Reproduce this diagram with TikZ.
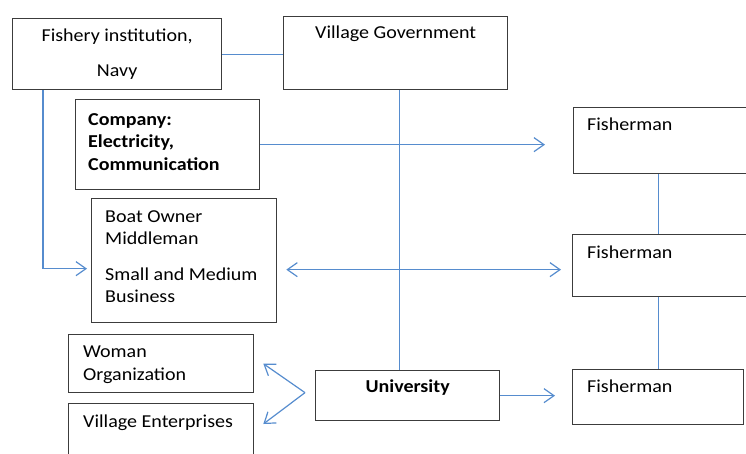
\documentclass[tikz,border=0pt]{standalone}
\usepackage{fontspec}
\setmainfont{Carlito}[FakeStretch=1.1]
\usetikzlibrary{arrows.meta}

\definecolor{linkblue}{RGB}{86,140,206}
\definecolor{boxline}{RGB}{60,60,60}

\tikzset{
    >={Straight Barb[length=10pt,width=14pt]},
    box/.style={draw=boxline, line width=1.3pt, rectangle, anchor=north west, inner sep=0pt},
    link/.style={draw=linkblue, line width=1.2pt},
    intext/.style={anchor=base west, inner sep=0pt},
    inblock/.style={anchor=north west, inner sep=0pt, align=left}
}

\begin{document}
\fontsize{18.2}{22.5}\selectfont
\begin{tikzpicture}[x=1pt, y=-1pt]
\useasboundingbox (0,0) rectangle (746,453);

% top row
\node[box, minimum width=209pt, minimum height=71pt, align=center] (fishinst) at (12,18)
    {Fishery institution,\\[13pt]Navy};
\node[box, minimum width=224pt, minimum height=73pt,
    label={[intext, anchor=base, yshift=-22pt]north:Village Government}] (villgov) at (283,16) {};

% left column
\node[box, minimum width=184pt, minimum height=90pt,
    label={[inblock, font=\bfseries, xshift=13pt, yshift=-14pt]north west:{Company:\\Electricity,\\Communication}}] (company) at (75,99) {};
\node[box, minimum width=185pt, minimum height=124pt,
    label={[inblock, xshift=14pt, yshift=-12pt]north west:{Boat Owner\\Middleman\\[13pt]Small and Medium\\Business}}] (boat) at (91,198) {};
\node[box, minimum width=185pt, minimum height=58pt,
    label={[inblock, xshift=15pt, yshift=-12pt]north west:{Woman\\Organization}}] (woman) at (68,334) {};
\node[box, minimum width=185pt, minimum height=60pt,
    label={[intext, xshift=15pt, yshift=-24pt]north west:Village Enterprises}] (enterp) at (68,403) {};
\node[box, minimum width=184pt, minimum height=50pt,
    label={[intext, font=\bfseries, anchor=base, yshift=-22pt]north:University}] (univ) at (315,370) {};

% fishermen
\node[box, minimum width=180pt, minimum height=66pt,
    label={[intext, xshift=14pt, yshift=-23pt]north west:Fisherman}] (fisher1) at (573,107) {};
\node[box, minimum width=180pt, minimum height=62pt,
    label={[intext, xshift=15pt, yshift=-24pt]north west:Fisherman}] (fisher2) at (572,234) {};
\node[box, minimum width=171pt, minimum height=55pt,
    label={[intext, xshift=15pt, yshift=-23pt]north west:Fisherman}] (fisher3) at (572,369) {};

\coordinate (fork) at ([xshift=-10pt, yshift=3pt]univ.west);

% connectors
\draw[link] (fishinst.east) -- (fishinst.east -| villgov.west);
\draw[link] ([xshift=4pt]villgov.south) -- ([xshift=4pt]villgov.south |- univ.north);
\draw[link, ->] (company.east) -- ([xshift=-28pt]company.east -| fisher1.west);
\draw[link, ->] ([xshift=31pt]fishinst.south west) |- ([xshift=-4pt, yshift=-8pt]boat.west);
\draw[link, <->] ([xshift=9pt, yshift=-9pt]boat.east) -- ([xshift=-11pt, yshift=-4pt]fisher2.west);
\draw[link] (fisher1.south -| fisher3.north) -- (fisher2.north -| fisher3.north);
\draw[link] (fisher2.south -| fisher3.north) -- (fisher3.north);
\draw[link, ->] (univ.east) -- ([xshift=-17pt]univ.east -| fisher3.west);
\draw[link, ->] (fork) -- ([xshift=9pt]woman.east);
\draw[link, ->] (fork) -- ([xshift=9pt, yshift=-21pt]enterp.north east);
\end{tikzpicture}
\end{document}
